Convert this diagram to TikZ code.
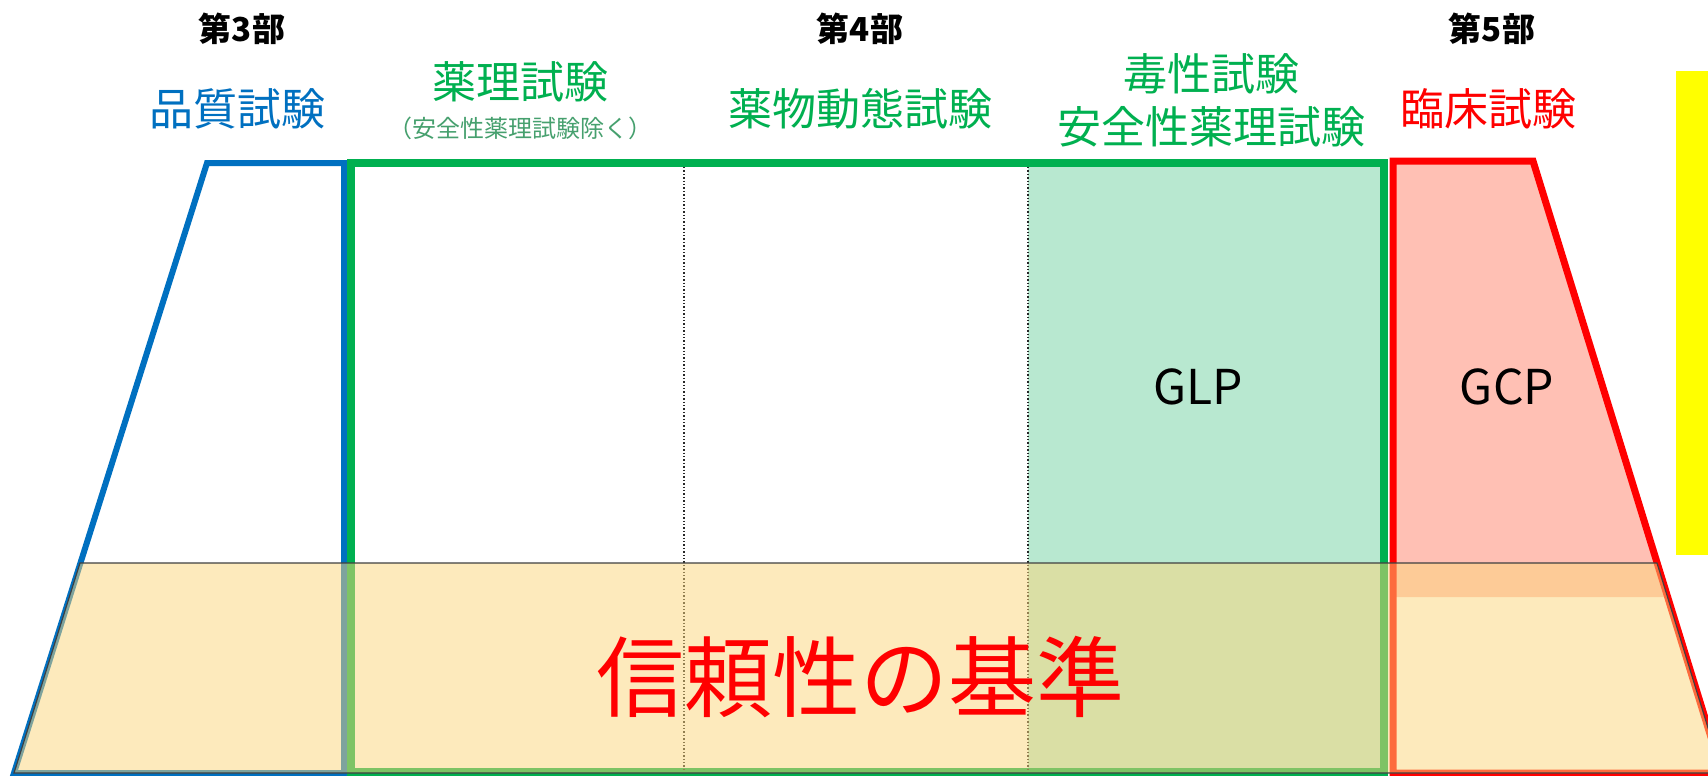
\documentclass[tikz,border=0pt]{standalone}
\usepackage{fontspec}
\setmainfont{Noto Sans CJK JP}
\newfontfamily\jp{Noto Sans CJK JP}
\definecolor{cblue}{RGB}{0,112,192}
\definecolor{cgreen}{RGB}{0,176,80}
\definecolor{cred}{RGB}{255,0,0}
\definecolor{glpfill}{RGB}{184,232,208}
\definecolor{gcpfill}{RGB}{255,192,180}
\definecolor{bandfill}{RGB}{253,215,123}
\definecolor{subgreen}{RGB}{70,160,110}
\definecolor{cyellow}{RGB}{255,255,0}
\tikzset{
  parttitle/.style={font=\jp\bfseries\fontsize{33pt}{36pt}\selectfont, text=black, inner sep=0pt},
  testname/.style={font=\jp\fontsize{44pt}{52pt}\selectfont, inner sep=0pt},
  subnote/.style={font=\jp\fontsize{24pt}{26pt}\selectfont, text=subgreen, inner sep=0pt},
  gxp/.style={font=\jp\fontsize{48pt}{52pt}\selectfont, text=black, inner sep=0pt},
  divider/.style={draw=black!85, line width=1.4pt, dotted},
}
\begin{document}
\begin{tikzpicture}[x=1pt,y=-1pt]
\useasboundingbox (0,0) rectangle (1708,776);
\fill[white] (0,0) rectangle (1708,776);
\begin{scope}
\clip (0,0) rectangle (1708,776);
% fills
\fill[glpfill] (1028,163) rectangle (1384,773);
\fill[gcpfill] (1393,161) -- (1533,161) -- (1667.5,597) -- (1393,597) -- cycle;
% outlines
\draw[cblue, line width=6pt, line join=miter] (344,163) -- (207,163) -- (14,773) -- (344,773) -- cycle;
\draw[cred, line width=7pt, line join=miter] (1393,773) -- (1393,161) -- (1533,161) -- (1722,773) -- cycle;
\draw[cgreen, line width=8pt] (351,163) rectangle (1384,772);
\draw[divider] (684,167) -- (684,770);
\draw[divider] (1028,167) -- (1028,770);
% band
\draw[fill=bandfill, fill opacity=0.5, draw=black!75, line width=1.2pt] (80,563) -- (1657,563) -- (1722,773) -- (14,773) -- cycle;
% yellow rectangle
\fill[cyellow] (1676,71) rectangle (1720,555);
\end{scope}
% texts
\node[parttitle] (p3) at (242,29) {第3部};
\node[parttitle] (p4) at (860,29) {第4部};
\node[parttitle] (p5) at (1492,29) {第5部};
\node[testname, text=cblue] (quality) at (237,109) {品質試験};
\node[testname, text=cgreen] (pharm) at (520,82) {薬理試験};
\node[subnote] (pharmnote) at (520,128) {（安全性薬理試験除く）};
\node[testname, text=cgreen] (pk) at (860,109) {薬物動態試験};
\node[testname, text=cgreen] (tox1) at (1211,74) {毒性試験};
\node[testname, text=cgreen] (tox2) at (1211,127) {安全性薬理試験};
\node[testname, text=cred] (clin) at (1488,109) {臨床試験};
\node[gxp] (glp) at (1198,387) {GLP};
\node[gxp] (gcp) at (1507,387) {GCP};
\node[font=\jp\fontsize{88pt}{96pt}\selectfont, text=cred, inner sep=0pt] (rel) at (860,677) {信頼性の基準};
\end{tikzpicture}
\end{document}
